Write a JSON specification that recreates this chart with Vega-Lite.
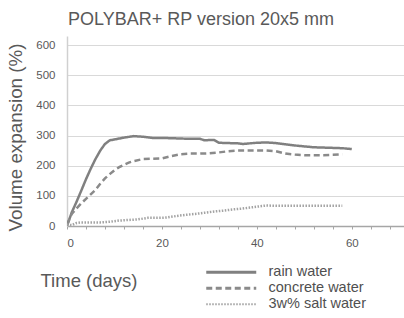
{
  "$schema": "https://vega.github.io/schema/vega-lite/v6.json",
  "autosize": "none",
  "width": 337,
  "height": 190,
  "padding": {"left": 67, "top": 36, "right": 0, "bottom": 92},
  "background": "white",
  "title": {
    "text": "POLYBAR+ RP version 20x5 mm",
    "anchor": "start",
    "frame": "group",
    "fontSize": 18,
    "font": "Liberation Sans",
    "fontWeight": "normal",
    "color": "#595959",
    "baseline": "alphabetic",
    "offset": 12,
    "dx": 1,
    "dy": 19
  },
  "data": {
    "values": [
      {"series": "rain water", "day": 0, "value": 0},
      {"series": "rain water", "day": 1, "value": 45},
      {"series": "rain water", "day": 2, "value": 80},
      {"series": "rain water", "day": 3, "value": 117},
      {"series": "rain water", "day": 4, "value": 155},
      {"series": "rain water", "day": 5, "value": 190},
      {"series": "rain water", "day": 6, "value": 222},
      {"series": "rain water", "day": 7, "value": 250},
      {"series": "rain water", "day": 8, "value": 272},
      {"series": "rain water", "day": 9, "value": 284},
      {"series": "rain water", "day": 10, "value": 287},
      {"series": "rain water", "day": 12, "value": 293},
      {"series": "rain water", "day": 14, "value": 298},
      {"series": "rain water", "day": 16, "value": 296},
      {"series": "rain water", "day": 18, "value": 292},
      {"series": "rain water", "day": 20, "value": 292},
      {"series": "rain water", "day": 22, "value": 291},
      {"series": "rain water", "day": 24, "value": 290},
      {"series": "rain water", "day": 26, "value": 289},
      {"series": "rain water", "day": 28, "value": 289},
      {"series": "rain water", "day": 29, "value": 284},
      {"series": "rain water", "day": 30, "value": 285},
      {"series": "rain water", "day": 31, "value": 285},
      {"series": "rain water", "day": 32, "value": 276},
      {"series": "rain water", "day": 34, "value": 275},
      {"series": "rain water", "day": 36, "value": 274},
      {"series": "rain water", "day": 37, "value": 272},
      {"series": "rain water", "day": 40, "value": 276},
      {"series": "rain water", "day": 42, "value": 277},
      {"series": "rain water", "day": 44, "value": 275},
      {"series": "rain water", "day": 46, "value": 271},
      {"series": "rain water", "day": 48, "value": 267},
      {"series": "rain water", "day": 50, "value": 264},
      {"series": "rain water", "day": 52, "value": 261},
      {"series": "rain water", "day": 54, "value": 260},
      {"series": "rain water", "day": 56, "value": 259},
      {"series": "rain water", "day": 58, "value": 258},
      {"series": "rain water", "day": 60, "value": 255},
      {"series": "concrete water", "day": 0, "value": 5},
      {"series": "concrete water", "day": 1, "value": 40},
      {"series": "concrete water", "day": 2, "value": 58},
      {"series": "concrete water", "day": 3, "value": 75},
      {"series": "concrete water", "day": 4, "value": 90},
      {"series": "concrete water", "day": 5, "value": 105},
      {"series": "concrete water", "day": 6, "value": 120},
      {"series": "concrete water", "day": 7, "value": 140},
      {"series": "concrete water", "day": 8, "value": 158},
      {"series": "concrete water", "day": 9, "value": 172},
      {"series": "concrete water", "day": 10, "value": 185},
      {"series": "concrete water", "day": 11, "value": 195},
      {"series": "concrete water", "day": 12, "value": 203},
      {"series": "concrete water", "day": 13, "value": 210},
      {"series": "concrete water", "day": 14, "value": 215},
      {"series": "concrete water", "day": 16, "value": 222},
      {"series": "concrete water", "day": 18, "value": 223},
      {"series": "concrete water", "day": 20, "value": 224},
      {"series": "concrete water", "day": 22, "value": 232},
      {"series": "concrete water", "day": 24, "value": 238},
      {"series": "concrete water", "day": 26, "value": 240},
      {"series": "concrete water", "day": 28, "value": 240},
      {"series": "concrete water", "day": 30, "value": 241},
      {"series": "concrete water", "day": 32, "value": 244},
      {"series": "concrete water", "day": 34, "value": 248},
      {"series": "concrete water", "day": 36, "value": 250},
      {"series": "concrete water", "day": 38, "value": 250},
      {"series": "concrete water", "day": 40, "value": 250},
      {"series": "concrete water", "day": 42, "value": 250},
      {"series": "concrete water", "day": 44, "value": 248},
      {"series": "concrete water", "day": 46, "value": 240},
      {"series": "concrete water", "day": 48, "value": 237},
      {"series": "concrete water", "day": 50, "value": 235},
      {"series": "concrete water", "day": 52, "value": 235},
      {"series": "concrete water", "day": 54, "value": 235},
      {"series": "concrete water", "day": 56, "value": 236},
      {"series": "concrete water", "day": 58, "value": 238},
      {"series": "3w% salt water", "day": 0, "value": 5},
      {"series": "3w% salt water", "day": 1, "value": 3},
      {"series": "3w% salt water", "day": 2, "value": 10},
      {"series": "3w% salt water", "day": 3, "value": 12},
      {"series": "3w% salt water", "day": 5, "value": 12},
      {"series": "3w% salt water", "day": 7, "value": 12},
      {"series": "3w% salt water", "day": 9, "value": 14},
      {"series": "3w% salt water", "day": 11, "value": 18},
      {"series": "3w% salt water", "day": 13, "value": 20},
      {"series": "3w% salt water", "day": 15, "value": 22},
      {"series": "3w% salt water", "day": 17, "value": 27},
      {"series": "3w% salt water", "day": 19, "value": 27},
      {"series": "3w% salt water", "day": 21, "value": 28},
      {"series": "3w% salt water", "day": 23, "value": 33},
      {"series": "3w% salt water", "day": 25, "value": 37},
      {"series": "3w% salt water", "day": 27, "value": 40},
      {"series": "3w% salt water", "day": 29, "value": 44},
      {"series": "3w% salt water", "day": 31, "value": 48},
      {"series": "3w% salt water", "day": 33, "value": 51},
      {"series": "3w% salt water", "day": 35, "value": 55},
      {"series": "3w% salt water", "day": 37, "value": 58},
      {"series": "3w% salt water", "day": 39, "value": 62},
      {"series": "3w% salt water", "day": 41, "value": 66},
      {"series": "3w% salt water", "day": 42, "value": 68},
      {"series": "3w% salt water", "day": 44, "value": 67},
      {"series": "3w% salt water", "day": 48, "value": 67},
      {"series": "3w% salt water", "day": 52, "value": 67},
      {"series": "3w% salt water", "day": 56, "value": 67},
      {"series": "3w% salt water", "day": 58, "value": 67}
    ]
  },
  "mark": {"type": "line", "strokeWidth": 2.5, "clip": true},
  "encoding": {
    "x": {
      "field": "day",
      "type": "quantitative",
      "scale": {"domain": [0, 71], "nice": false},
      "axis": {
        "title": "Time (days)",
        "values": [0, 4, 8, 12, 16, 20, 24, 28, 32, 36, 40, 44, 48, 52, 56, 60, 64, 68],
        "labelExpr": "datum.value % 20 == 0 ? datum.label : ''",
        "grid": false,
        "domainColor": "#a6a6a6",
        "domainWidth": 1.5,
        "tickColor": "#a6a6a6",
        "tickSize": 3,
        "labelPadding": 8,
        "labelFontSize": 11.5,
        "labelColor": "#595959",
        "labelFont": "Liberation Sans",
        "titleFont": "Liberation Sans",
        "titleFontSize": 18.5,
        "titleFontWeight": "normal",
        "titleColor": "#595959",
        "titleAlign": "left",
        "titleAnchor": null,
        "titleBaseline": "alphabetic",
        "titleX": -27,
        "titleY": 60
      }
    },
    "y": {
      "field": "value",
      "type": "quantitative",
      "scale": {"domain": [0, 630], "nice": false},
      "axis": {
        "title": "Volume expansion (%)",
        "values": [0, 100, 200, 300, 400, 500, 600],
        "grid": true,
        "gridColor": "#d9d9d9",
        "gridWidth": 1,
        "domainColor": "#d0d0d0",
        "domainWidth": 1.5,
        "ticks": false,
        "labelPadding": 12,
        "labelFontSize": 11.5,
        "labelColor": "#595959",
        "labelFont": "Liberation Sans",
        "titleFont": "Liberation Sans",
        "titleFontSize": 18.8,
        "titleFontWeight": "normal",
        "titleColor": "#595959",
        "titleAngle": -90,
        "titleAlign": "center",
        "titleAnchor": null,
        "titleBaseline": "alphabetic",
        "titleX": -46,
        "titleY": 101
      }
    },
    "color": {
      "field": "series",
      "type": "nominal",
      "title": "series",
      "scale": {
        "domain": ["rain water", "concrete water", "3w% salt water"],
        "range": ["#808080", "#8a8a8a", "#a3a3a3"]
      },
      "legend": {
        "title": null,
        "orient": "none",
        "legendX": 157,
        "legendY": 229,
        "padding": 0,
        "symbolType": "stroke",
        "symbolSize": 2500,
        "symbolStrokeWidth": 3,
        "labelOffset": 30,
        "labelFontSize": 14.5,
        "labelFont": "Liberation Sans",
        "labelColor": "#505050",
        "rowPadding": 1,
        "encode": {
          "symbols": {
            "update": {
              "strokeDash": {"signal": "datum.value == 'concrete water' ? [13, 6] : datum.value == '3w% salt water' ? [2, 3.5] : [1, 0]"},
              "strokeWidth": {"signal": "datum.value == '3w% salt water' ? 2 : 3"}
            }
          }
        }
      }
    },
    "strokeDash": {
      "field": "series",
      "type": "nominal",
      "title": "dash",
      "scale": {
        "domain": ["rain water", "concrete water", "3w% salt water"],
        "range": [[1, 0], [6, 3.5], [1.5, 1.5]]
      },
      "legend": null
    }
  },
  "config": {
    "view": {"stroke": null}
  }
}
